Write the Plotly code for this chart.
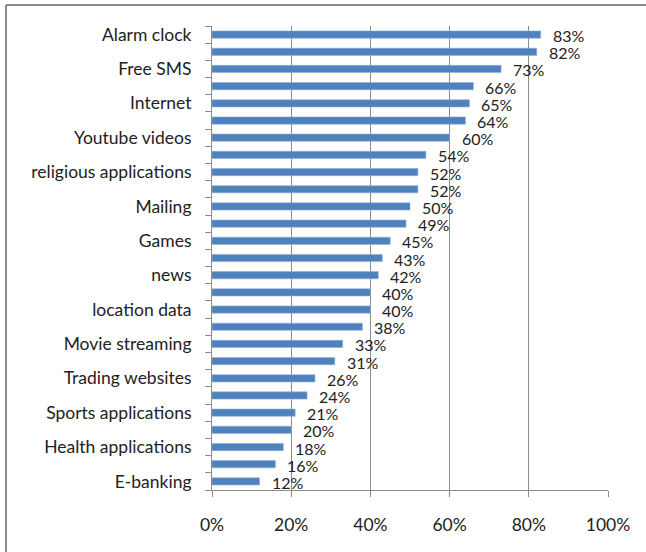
import plotly.graph_objects as go

categories = ["Alarm clock", "", "Free SMS", "", "Internet", "", "Youtube videos", "",
              "religious applications", "", "Mailing", "", "Games", "", "news", "",
              "location data", "", "Movie streaming", "", "Trading websites", "",
              "Sports applications", "", "Health applications", "", "E-banking"]
values = [83, 82, 73, 66, 65, 64, 60, 54, 52, 52, 50, 49, 45, 43, 42, 40, 40, 38,
          33, 31, 26, 24, 21, 20, 18, 16, 12]
x_ticks = [0, 20, 40, 60, 80, 100]
x_tick_labels = ["0%", "20%", "40%", "60%", "80%", "100%"]

pos = list(range(len(categories)))
FONT = "Lato, 'Open Sans', sans-serif"
TXT = "#222222"
GRID = "#8c8c8c"

fig = go.Figure()
fig.add_trace(go.Bar(
    x=values, y=pos, orientation="h", width=0.42,
    marker=dict(color="#4F81BD", line=dict(color="#8fb0d8", width=0.6)),
    showlegend=False, hoverinfo="x",
))

for v, p in zip(values, pos):
    fig.add_annotation(x=v, y=p, text=f"{v}%", showarrow=False, xanchor="left",
                       xshift=10, yshift=-1, font=dict(family=FONT, size=16, color=TXT))

L, R, T, B = 212, 38, 26, 62
W, H = 646, 552
pw, ph = W - L - R, H - T - B

def px(xp):
    return (xp - L) / pw

def py(yp):
    return (H - B - yp) / ph

fig.add_shape(type="line", xref="paper", yref="paper", x0=px(6), x1=px(646), y0=py(5), y1=py(5),
              line=dict(color="#8a8a8a", width=2))
fig.add_shape(type="line", xref="paper", yref="paper", x0=px(6), x1=px(6), y0=py(5), y1=py(552),
              line=dict(color="#8a8a8a", width=2))

fig.update_layout(
    width=W, height=H,
    margin=dict(l=L, r=R, t=T, b=B, pad=0),
    paper_bgcolor="white", plot_bgcolor="white",
    xaxis=dict(range=[0, 100], tickvals=x_ticks, ticktext=x_tick_labels,
               showgrid=True, gridcolor=GRID, gridwidth=1,
               showline=True, linecolor=GRID, linewidth=1,
               ticks="outside", ticklen=6, tickcolor=GRID,
               ticklabelstandoff=13,
               zeroline=False, fixedrange=True,
               tickfont=dict(family=FONT, size=17.5, color=TXT)),
    yaxis=dict(range=[len(categories) - 0.5, -0.5], tickvals=pos, ticktext=categories,
               showgrid=False, zeroline=False,
               showline=True, linecolor=GRID, linewidth=1,
               ticks="", ticklabelstandoff=16,
               minor=dict(tickmode="linear", tick0=0.5, dtick=1, ticks="outside",
                          ticklen=6, tickcolor=GRID, showgrid=False),
               tickfont=dict(family=FONT, size=17.5, color=TXT)),
)

fig.write_html("out.html")
